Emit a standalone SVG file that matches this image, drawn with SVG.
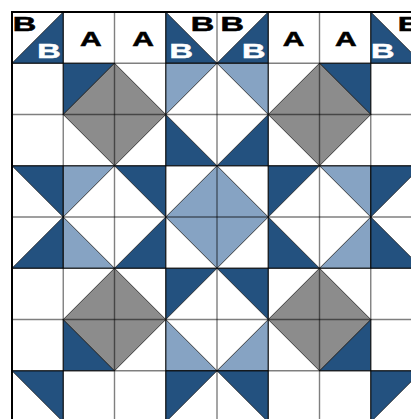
<svg xmlns="http://www.w3.org/2000/svg" width="411" height="419" viewBox="0 0 411 419">
<style>
.d{fill:#23517f;stroke:#1a1a1a;stroke-width:0.8;stroke-linejoin:round}
.l{fill:#86a3c3;stroke:#1a1a1a;stroke-width:0.8;stroke-linejoin:round}
.g{fill:#8c8c8c;stroke:#1a1a1a;stroke-width:0.8;stroke-linejoin:round}
.grid{stroke:#000;stroke-opacity:0.5;stroke-width:1.4;fill:none}
.t{font-family:"Liberation Sans",Arial,sans-serif;font-weight:bold;font-size:19.5px}
.bk{fill:#000;stroke:#000;stroke-width:0.5}
.wh{fill:#fff;stroke:#fff;stroke-width:0.5}
</style>
<rect x="0" y="0" width="411" height="419" fill="#fff"/>
<g id="fills">
<!-- row 0 -->
<polygon class="d" points="63.25,12 63.25,63.25 12,63.25"/>
<polygon class="d" points="165.75,12 165.75,63.25 217,63.25"/>
<polygon class="d" points="268.25,12 268.25,63.25 217,63.25"/>
<polygon class="d" points="370.75,12 370.75,63.25 422,63.25"/>
<!-- row 1 -->
<polygon class="d" points="63.25,63.25 114.5,63.25 63.25,114.5"/>
<polygon class="l" points="165.75,63.25 217,63.25 165.75,114.5"/>
<polygon class="l" points="217,63.25 268.25,63.25 268.25,114.5"/>
<polygon class="d" points="319.5,63.25 370.75,63.25 370.75,114.5"/>
<!-- row 2 -->
<polygon class="d" points="165.75,114.5 165.75,165.75 217,165.75"/>
<polygon class="d" points="268.25,114.5 268.25,165.75 217,165.75"/>
<!-- row 3 -->
<polygon class="d" points="12,165.75 63.25,165.75 63.25,217"/>
<polygon class="l" points="63.25,165.75 114.5,165.75 63.25,217"/>
<polygon class="d" points="114.5,165.75 165.75,165.75 165.75,217"/>
<polygon class="d" points="268.25,165.75 319.5,165.75 268.25,217"/>
<polygon class="l" points="319.5,165.75 370.75,165.75 370.75,217"/>
<polygon class="d" points="370.75,165.75 422,165.75 370.75,217"/>
<!-- row 4 -->
<polygon class="d" points="63.25,217 63.25,268.25 12,268.25"/>
<polygon class="l" points="63.25,217 63.25,268.25 114.5,268.25"/>
<polygon class="d" points="165.75,217 165.75,268.25 114.5,268.25"/>
<polygon class="d" points="268.25,217 268.25,268.25 319.5,268.25"/>
<polygon class="l" points="370.75,217 370.75,268.25 319.5,268.25"/>
<polygon class="d" points="370.75,217 370.75,268.25 422,268.25"/>
<!-- row 5 -->
<polygon class="d" points="165.75,268.25 217,268.25 165.75,319.5"/>
<polygon class="d" points="217,268.25 268.25,268.25 268.25,319.5"/>
<!-- row 6 -->
<polygon class="d" points="63.25,319.5 63.25,370.75 114.5,370.75"/>
<polygon class="l" points="165.75,319.5 165.75,370.75 217,370.75"/>
<polygon class="l" points="268.25,319.5 268.25,370.75 217,370.75"/>
<polygon class="d" points="370.75,319.5 370.75,370.75 319.5,370.75"/>
<!-- row 7 -->
<polygon class="d" points="12,370.75 63.25,370.75 63.25,422"/>
<polygon class="d" points="165.75,370.75 217,370.75 165.75,422"/>
<polygon class="d" points="217,370.75 268.25,370.75 268.25,422"/>
<polygon class="d" points="370.75,370.75 422,370.75 370.75,422"/>
<!-- diamonds -->
<polygon class="g" points="114.5,63.25 165.75,114.5 114.5,165.75 63.25,114.5"/>
<polygon class="g" points="319.5,63.25 370.75,114.5 319.5,165.75 268.25,114.5"/>
<polygon class="g" points="114.5,268.25 165.75,319.5 114.5,370.75 63.25,319.5"/>
<polygon class="g" points="319.5,268.25 370.75,319.5 319.5,370.75 268.25,319.5"/>
<polygon class="l" points="217,165.75 268.25,217 217,268.25 165.75,217"/>
</g>
<g id="grid" class="grid">
<path d="M63.25,12V419M114.5,12V419M165.75,12V419M217,12V419M268.25,12V419M319.5,12V419M370.75,12V419"/>
<path d="M12,63.25H411M12,114.5H411M12,165.75H411M12,217H411M12,268.25H411M12,319.5H411M12,370.75H411"/>
</g>
<path d="M12,419V12H411" fill="none" stroke="#000" stroke-width="2"/>
<g id="labels" class="t">
<text class="bk" x="12.7" y="31" textLength="23.5" lengthAdjust="spacingAndGlyphs">B</text>
<text class="wh" x="37.2" y="58" textLength="23.5" lengthAdjust="spacingAndGlyphs">B</text>
<text class="bk" x="80" y="45.8" textLength="21.7" lengthAdjust="spacingAndGlyphs">A</text>
<text class="bk" x="132.3" y="45.8" textLength="21.7" lengthAdjust="spacingAndGlyphs">A</text>
<text class="wh" x="169.4" y="58" textLength="23.5" lengthAdjust="spacingAndGlyphs">B</text>
<text class="bk" x="190.7" y="31" textLength="23.5" lengthAdjust="spacingAndGlyphs">B</text>
<text class="bk" x="220.4" y="31" textLength="23.5" lengthAdjust="spacingAndGlyphs">B</text>
<text class="wh" x="242" y="58" textLength="23.5" lengthAdjust="spacingAndGlyphs">B</text>
<text class="bk" x="282.7" y="45.8" textLength="21.7" lengthAdjust="spacingAndGlyphs">A</text>
<text class="bk" x="335" y="45.8" textLength="21.7" lengthAdjust="spacingAndGlyphs">A</text>
<text class="wh" x="371" y="58" textLength="23.5" lengthAdjust="spacingAndGlyphs">B</text>
<text class="bk" x="397.7" y="31" textLength="23.5" lengthAdjust="spacingAndGlyphs">B</text>
</g>
</svg>
